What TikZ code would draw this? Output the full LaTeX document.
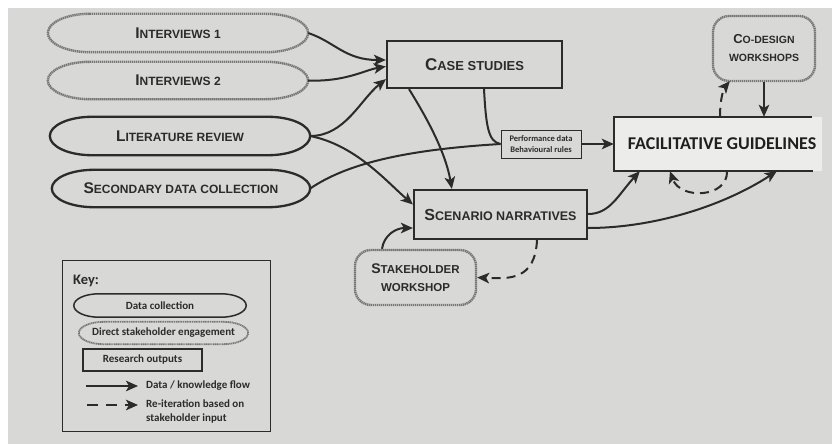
\documentclass[tikz,border=0pt]{standalone}
\usepackage{fontspec}
\setmainfont{Liberation Sans}
\newfontfamily\calfont{Carlito}
\usetikzlibrary{arrows.meta,calc}

\definecolor{paperbg}{HTML}{D8D8D6}
\definecolor{ink}{HTML}{2B2B2B}
\definecolor{engage}{HTML}{777777}
\definecolor{strip}{HTML}{ECECEA}

% first letter large, the rest in smaller capitals
\newcommand\capfirst[4]{{\fontsize{#1}{#1}\selectfont #3}{\fontsize{#2}{#2}\selectfont #4}}

% elongated oval outline drawn round a named node
\newcommand\ovaloutline[3]{%
  \draw[#2] let \p1=(#1.north west), \p2=(#1.south east), \n1={(\y1-\y2)/2} in
    (\x1+#3,\y1) -- (\x2-#3,\y1)
    arc[start angle=90,end angle=-90,x radius=#3,y radius=\n1]
    -- (\x1+#3,\y2)
    arc[start angle=270,end angle=90,x radius=#3,y radius=\n1] -- cycle;}

\tikzset{
  lab/.style={inner sep=0pt, text=ink, font=\bfseries, align=center},
  collect/.style={draw=ink, line width=2.3pt},
  engageline/.style={draw=engage, line width=2.4pt, dash pattern=on 1.4pt off 0.6pt},
  outbox/.style={lab, draw=ink, line width=2.2pt},
  workshop/.style={lab, draw=engage, line width=2.4pt, dash pattern=on 1.4pt off 0.6pt, rounded corners=16pt},
  tip/.style={-{Stealth[length=12pt,width=10.5pt,inset=3pt]}},
  flow/.style={draw=ink, line width=2pt, tip},
  flowline/.style={draw=ink, line width=2pt},
  reflow/.style={draw=ink, line width=2pt, dash pattern=on 9pt off 6pt, tip},
  keytext/.style={inner sep=0pt, text=ink, font=\calfont\bfseries\fontsize{11pt}{13.5pt}\selectfont},
}

\begin{document}
\begin{tikzpicture}[x=1pt,y=-1pt]
\useasboundingbox (0,0) rectangle (832,444);
\fill[white] (0,0) rectangle (832,444);
\fill[paperbg] (8,8) rectangle (832,444);

% data collection and interviews
\node[lab, minimum width=260pt, minimum height=38pt] (int1) at (178,33) {\capfirst{15.5pt}{12pt}{I}{NTERVIEWS 1}};
\node[lab, minimum width=260pt, minimum height=37pt] (int2) at (178,80.5) {\capfirst{15.5pt}{12pt}{I}{NTERVIEWS 2}};
\node[lab, minimum width=260pt, minimum height=38pt] (lit) at (180,136) {\capfirst{15.5pt}{12pt}{L}{ITERATURE REVIEW}};
\node[lab, minimum width=258pt, minimum height=37pt] (sec) at (181,188.5) {\capfirst{15.5pt}{12pt}{S}{ECONDARY DATA COLLECTION}};
\ovaloutline{int1}{engageline}{42pt}
\ovaloutline{int2}{engageline}{42pt}
\ovaloutline{lit}{collect}{42pt}
\ovaloutline{sec}{collect}{42pt}

% research outputs
\node[outbox, minimum width=175pt, minimum height=47pt] (case) at (474.5,64.5) {\capfirst{17pt}{13pt}{C}{ASE STUDIES}};
\node[outbox, minimum width=173pt, minimum height=49pt] (scen) at (500.5,214.5) {\capfirst{16pt}{12.5pt}{S}{CENARIO NARRATIVES}};
\node[inner sep=0pt, draw=ink, line width=1pt, minimum width=80pt, minimum height=28pt, align=center,
      text=ink, font=\calfont\bfseries\fontsize{8.5pt}{11pt}\selectfont] (perf) at (541,144)
      {Performance data\\Behavioural rules};

% stakeholder workshops
\node[workshop, minimum width=121pt, minimum height=55pt, font=\bfseries\fontsize{11.5pt}{18pt}\selectfont] (stake) at (415.5,277.5)
      {\capfirst{14pt}{11.5pt}{S}{TAKEHOLDER}\\WORKSHOP};
\node[workshop, minimum width=102pt, minimum height=65pt, font=\bfseries\fontsize{10.5pt}{18pt}\selectfont] (codes) at (764,48.5)
      {\capfirst{13pt}{10.5pt}{C}{O-DESIGN}\\WORKSHOPS};

% guidelines on a pasted paper strip
\node[fill=strip, inner sep=0pt, minimum width=208pt, minimum height=54pt, text=black!88,
      font=\calfont\bfseries\fontsize{18pt}{20pt}\selectfont] (facil) at (718,144) {\hspace*{8pt}FACILITATIVE GUIDELINES};
\draw[ink, line width=1.7pt] ([xshift=198pt]facil.north west) -- (facil.north west) -- (facil.south west) -- ([xshift=199pt]facil.south west);

% knowledge flows
\draw[flow] (int1.east) .. controls (335,42) and (345,60) .. ([yshift=4.5pt]case.west);
\draw[flow] (int2.east) .. controls (345,82) and (365,70) .. ([yshift=-2pt]case.west);
\draw[flow] (lit.east) .. controls (345,136) and (360,100) .. ([yshift=10pt]case.south west);
\draw[flow] (lit.east) .. controls (355,145) and (385,180) .. ([yshift=10pt]scen.west);
\draw[flowline] (sec.east) .. controls (345,165) and (400,150) .. (perf.west);
\draw[flowline] ([xshift=9.5pt]case.south) .. controls (486,125) and (488,142) .. (perf.west);
\draw[flow] ([xshift=-65.5pt]case.south) .. controls (425,115) and (445,150) .. ([xshift=39pt]scen.north west);
\draw[flow] (perf.east) -- (facil.west);
\draw[flow] ([yshift=0.5pt]scen.east) .. controls (610,214) and (618,195) .. ([xshift=26pt]facil.south west);
\draw[flow] ([yshift=-13.5pt]scen.east) .. controls (650,228) and (720,208) .. ([xshift=163pt]facil.south west);
\draw[flow] ([xshift=-33.5pt]stake.north) .. controls (384,235) and (396,228) .. ([yshift=-13.5pt]scen.west);
\draw[flow] (codes.south) -- (codes.south |- facil.north);

% re-iteration loops
\draw[reflow] ([xshift=36.5pt]scen.south) .. controls (535,280) and (510,279) .. (stake.east);
\draw[reflow] ([xshift=2pt]facil.north) .. controls (720,98) and (724,88) .. ([xshift=18pt,yshift=1pt]codes.south west);
\draw[reflow] ([xshift=9pt]facil.south) .. controls (728,198) and (680,200) .. ([xshift=-48pt]facil.south);

% key
\node[draw=ink, line width=0.8pt, minimum width=208pt, minimum height=171pt, inner sep=0pt] (keybox) at (166,345.5) {};
\node[anchor=west, inner sep=0pt, text=ink, font=\calfont\bfseries\fontsize{14.5pt}{16pt}\selectfont] (keyt) at (73,281) {Key:};
\node[keytext, minimum width=172pt, minimum height=23pt] (kdc) at (160,305.5) {Data collection};
\ovaloutline{kdc}{draw=ink, line width=1.5pt}{25pt}
\node[keytext, minimum width=169pt, minimum height=22pt] (kdse) at (163.5,333) {Direct stakeholder engagement};
\ovaloutline{kdse}{draw=engage, line width=1.8pt, dash pattern=on 1.2pt off 0.6pt}{25pt}
\node[keytext, draw=ink, line width=1.5pt, minimum width=119pt, minimum height=22pt] (kro) at (142.5,360) {Research outputs};
\coordinate (ka1) at (86,386);
\coordinate (kb1) at (138,386);
\draw[flow] (ka1) -- (kb1);
\node[keytext, anchor=west] (kflow) at (146,386) {Data / knowledge flow};
\coordinate (ka2) at (87,405);
\coordinate (kb2) at (138,405);
\draw[draw=ink, line width=2.4pt, dash pattern=on 11pt off 8pt, tip] (ka2) -- (kb2);
\node[keytext, anchor=west, align=left] (kre) at (146,411.5) {Re-iteration based on\\stakeholder input};
\end{tikzpicture}
\end{document}
